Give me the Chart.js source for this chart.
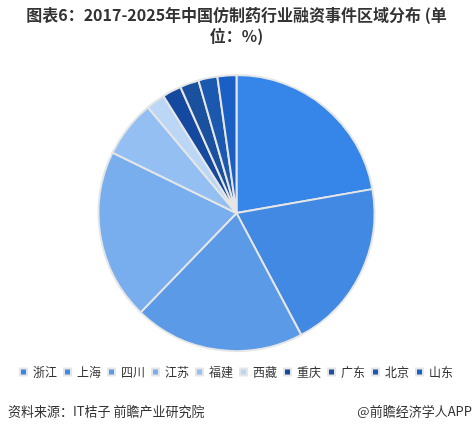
<!DOCTYPE html>
<html>
<head>
<meta charset="utf-8">
<script src="https://cdn.jsdelivr.net/npm/chart.js@4"></script>
<style>
  html, body { margin: 0; padding: 0; background: #fff; }
  #wrap { position: relative; width: 473px; height: 432px; }
</style>
</head>
<body>
<div id="wrap"><canvas id="grafico" width="473" height="432"></canvas></div>
<script>
// Dados do gráfico
const regioes = ['浙江', '上海', '四川', '江苏', '福建', '西藏', '重庆', '广东', '北京', '山东'];
const percentuais = [22.22, 20, 20, 20, 6.67, 2.22, 2.22, 2.22, 2.22, 2.22];
const cores = ['#3586e8', '#4189e3', '#5b9ae6', '#78aeee', '#93bff3', '#bcd7f6', '#1549a0', '#1a519e', '#1b58b0', '#1a60c4'];
const titulo = ['图表6：2017-2025年中国仿制药行业融资事件区域分布 (单', '位：%)'];
const fonte = '资料来源：IT桔子 前瞻产业研究院';
const marca = '@前瞻经济学人APP';

const familia = '"Noto Sans CJK SC", "Noto Sans", sans-serif';

// Rodapé desenhado no canvas
const rodape = {
  id: 'rodape',
  afterDraw(chart) {
    const ctx = chart.ctx;
    ctx.save();
    ctx.font = '13px ' + familia;
    ctx.fillStyle = '#333';
    ctx.textBaseline = 'middle';
    ctx.textAlign = 'left';
    ctx.fillText(fonte, 8, 411);
    ctx.textAlign = 'right';
    ctx.fillText(marca, 472, 411);
    ctx.restore();
  }
};

new Chart(document.getElementById('grafico').getContext('2d'), {
  type: 'pie',
  data: {
    labels: regioes,
    datasets: [{
      data: percentuais,
      backgroundColor: cores,
      borderColor: '#e6e6e6',
      borderWidth: 2
    }]
  },
  options: {
    responsive: false,
    animation: false,
    radius: 138,
    layout: { padding: { top: 0, bottom: 44, left: 0, right: 0 } },
    plugins: {
      title: {
        display: true,
        text: titulo,
        color: '#333',
        font: { family: familia, size: 16, weight: 'bold', lineHeight: 1.35 },
        padding: { top: 4, bottom: 20 }
      },
      legend: {
        position: 'bottom',
        labels: {
          boxWidth: 7,
          boxHeight: 7,
          padding: 7,
          color: '#333',
          font: { family: familia, size: 12 }
        }
      },
      tooltip: { enabled: false }
    }
  },
  plugins: [rodape]
});
</script>
</body>
</html>
